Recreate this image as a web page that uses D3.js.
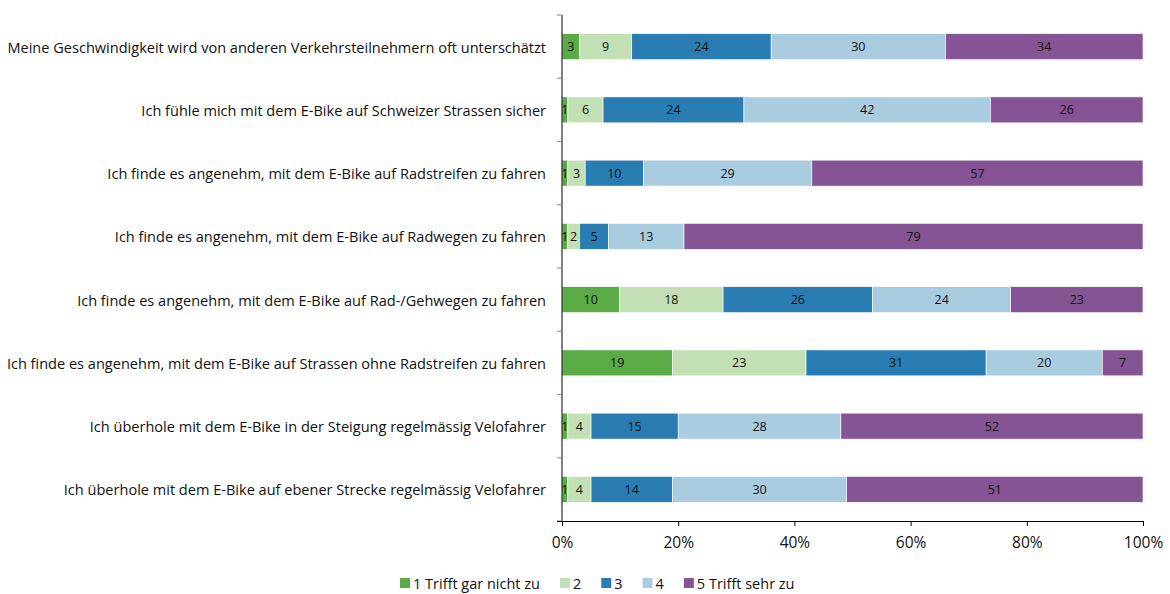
<!DOCTYPE html>
<html>
<head>
<meta charset="utf-8">
<script src="https://cdn.jsdelivr.net/npm/d3@7"></script>
<style>
  html, body { margin: 0; padding: 0; background: #fff; }
  svg { display: block; font-family: "Open Sans", "DejaVu Sans", sans-serif; }
</style>
</head>
<body>
<svg id="chart" width="1170" height="594"></svg>
<script>
// Statements (top to bottom)
const statements = [
  "Meine Geschwindigkeit wird von anderen Verkehrsteilnehmern oft unterschätzt",
  "Ich fühle mich mit dem E-Bike auf Schweizer Strassen sicher",
  "Ich finde es angenehm, mit dem E-Bike auf Radstreifen zu fahren",
  "Ich finde es angenehm, mit dem E-Bike auf Radwegen zu fahren",
  "Ich finde es angenehm, mit dem E-Bike auf Rad-/Gehwegen zu fahren",
  "Ich finde es angenehm, mit dem E-Bike auf Strassen ohne Radstreifen zu fahren",
  "Ich überhole mit dem E-Bike in der Steigung regelmässig Velofahrer",
  "Ich überhole mit dem E-Bike auf ebener Strecke regelmässig Velofahrer"
];

// Answer categories
const answers = ["1 Trifft gar nicht zu", "2", "3", "4", "5 Trifft sehr zu"];

// Share of answers (%) per category, one value per statement
const s1 = [3, 1, 1, 1, 10, 19, 1, 1];
const s2 = [9, 6, 3, 2, 18, 23, 4, 4];
const s3 = [24, 24, 10, 5, 26, 31, 15, 14];
const s4 = [30, 42, 29, 13, 24, 20, 28, 30];
const s5 = [34, 26, 57, 79, 23, 7, 52, 51];

const xTicks = [0, 0.2, 0.4, 0.6, 0.8, 1];
const colors = ["#5aab45", "#c3e0b5", "#2a7db2", "#a9cce1", "#845495"];

const series = [s1, s2, s3, s4, s5];
const rows = statements.map((name, i) => {
  const row = { name };
  answers.forEach((a, k) => { row[a] = series[k][i]; });
  return row;
});

const svg = d3.select("#chart");
const margin = { left: 562, right: 27, top: 15, bottom: 73 };
const W = 1170, H = 594;

const x = d3.scaleLinear().domain([0, 1]).range([margin.left, W - margin.right]);
const y = d3.scaleBand().domain(statements).range([margin.top, H - margin.bottom]).paddingInner(0.59).paddingOuter(0.295);

const stack = d3.stack().keys(answers).offset(d3.stackOffsetExpand);
const layers = stack(rows);

const g = svg.append("g");
g.selectAll("g.layer").data(layers).join("g")
  .attr("class", "layer")
  .attr("fill", (d, i) => colors[i])
  .selectAll("rect").data(d => d.map(p => ({ p, key: d.key }))).join("rect")
  .attr("x", d => x(d.p[0]))
  .attr("y", d => y(d.p.data.name))
  .attr("width", d => x(d.p[1]) - x(d.p[0]))
  .attr("height", y.bandwidth())
  .attr("stroke", "#ffffff")
  .attr("stroke-width", 0.6);

// Value labels inside segments
g.selectAll("g.lab").data(layers).join("g")
  .attr("class", "lab")
  .selectAll("text").data(d => d.map(p => ({ p, key: d.key }))).join("text")
  .attr("x", d => (x(d.p[0]) + x(d.p[1])) / 2)
  .attr("y", d => y(d.p.data.name) + y.bandwidth() / 2)
  .attr("text-anchor", "middle")
  .attr("dominant-baseline", "central")
  .attr("font-size", 12.5)
  .attr("fill", "#111")
  .text(d => d.p.data[d.key]);

// Y axis: line with ticks at category boundaries
const yAxisG = svg.append("g");
yAxisG.append("line")
  .attr("x1", margin.left).attr("x2", margin.left)
  .attr("y1", margin.top).attr("y2", H - margin.bottom)
  .attr("stroke", "#000").attr("stroke-width", 1);
const bounds = d3.range(statements.length + 1).map(i => margin.top + i * (H - margin.top - margin.bottom) / statements.length);
yAxisG.selectAll("line.tk").data(bounds).join("line")
  .attr("class", "tk")
  .attr("x1", margin.left - 5).attr("x2", margin.left)
  .attr("y1", d => d).attr("y2", d => d)
  .attr("stroke", "#888").attr("stroke-width", 1);

// Statement labels
svg.append("g").selectAll("text").data(statements).join("text")
  .attr("x", margin.left - 16)
  .attr("y", d => y(d) + y.bandwidth() / 2)
  .attr("text-anchor", "end")
  .attr("dominant-baseline", "central")
  .attr("font-size", 14.55)
  .attr("fill", "#111")
  .text(d => d);

// X axis
const xAxis = d3.axisBottom(x).tickValues(xTicks).tickFormat(d3.format(".0%")).tickSize(5).tickSizeOuter(0);
const xg = svg.append("g").attr("transform", `translate(0,${H - margin.bottom})`).call(xAxis);
xg.select(".domain").attr("d", `M${margin.left - 5},0.5H${W - margin.right}`).attr("stroke", "#000");
xg.selectAll(".tick line").attr("stroke", "#000");
xg.selectAll(".tick text").attr("font-size", 15.5).attr("fill", "#111").attr("dy", "1.2em")
  .attr("font-family", "\"Open Sans\", sans-serif");

// Legend
const legend = svg.append("g").attr("transform", "translate(0,583)");
let cx = 400;
answers.forEach((a, i) => {
  const it = legend.append("g").attr("transform", `translate(${cx},0)`);
  it.append("rect").attr("x", 0).attr("y", -5).attr("width", 10).attr("height", 10).attr("fill", colors[i]);
  const t = it.append("text").attr("x", 13).attr("y", 0).attr("dominant-baseline", "central")
    .attr("font-size", 14.5).attr("fill", "#111").text(a);
  cx += 13 + t.node().getComputedTextLength() + 20;
});
</script>
</body>
</html>
